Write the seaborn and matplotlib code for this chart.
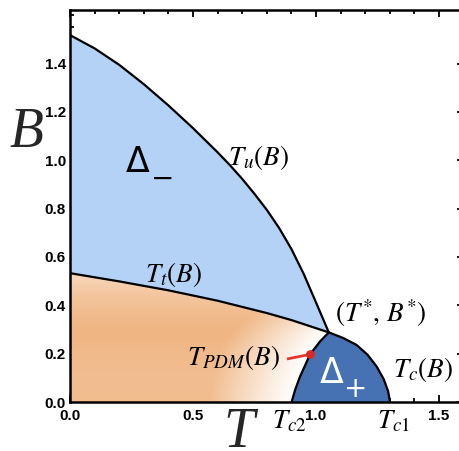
import numpy as np
import matplotlib
matplotlib.use("Agg")
import matplotlib.pyplot as plt
from matplotlib.patches import Polygon
from matplotlib.ticker import MultipleLocator, FormatStrFormatter
import seaborn as sns

# ---- data ----
# upper critical line T_u(B)
Tu_T = [0.0, 0.1, 0.2, 0.3, 0.4, 0.5, 0.6, 0.65, 0.7, 0.75, 0.8, 0.85, 0.9, 0.95, 1.0, 1.052]
Tu_B = [1.518, 1.463, 1.395, 1.315, 1.227, 1.133, 1.033, 0.98, 0.923, 0.861, 0.795, 0.72,
        0.633, 0.53, 0.412, 0.288]
# transition line T_t(B)
Tt_T = [0.0, 0.2, 0.4, 0.6, 0.8, 0.9, 1.052]
Tt_B = [0.533, 0.499, 0.462, 0.419, 0.368, 0.339, 0.288]
# T_PDM(B): left boundary of Delta_+ (from T_c2 up to T*)
Tp_T = [0.901, 0.915, 0.935, 0.955, 0.976, 1.016, 1.052]
Tp_B = [0.0, 0.05, 0.105, 0.15, 0.197, 0.25, 0.288]
# T_c(B): right boundary of Delta_+ (from T* down to T_c1)
Tc_T = [1.052, 1.11, 1.165, 1.21, 1.247, 1.275, 1.293, 1.301]
Tc_B = [0.288, 0.265, 0.236, 0.195, 0.146, 0.095, 0.045, 0.0]
# marked point on T_PDM(B) and label anchor of its arrow
pdm_point = (0.976, 0.197)
pdm_tail = (0.882, 0.178)

x_ticks = [0.0, 0.5, 1.0, 1.5]
y_ticks = [0.0, 0.2, 0.4, 0.6, 0.8, 1.0, 1.2, 1.4]

sns.set_style("ticks")
plt.rcParams["mathtext.fontset"] = "stix"
plt.rcParams["font.family"] = ["Liberation Sans", "DejaVu Sans"]

W, H = 459, 451
fig = plt.figure(figsize=(W / 100, H / 100), dpi=100)
x0, xr = 70, 246.0
y0, yr = 402, 241.7
xmax = 1.6
ymax = (y0 - 9.5) / yr
ax = fig.add_axes([x0 / W, (H - y0) / H, xmax * xr / W, ymax * yr / H])

light_blue = "#B4D2F5"
dark_blue = "#4672B3"

# Delta_- region
ax.fill(Tu_T + Tt_T[::-1], Tu_B + Tt_B[::-1], color=light_blue, lw=0, zorder=1)
# Delta_+ region
ax.fill(Tp_T + Tc_T, Tp_B + Tc_B, color=dark_blue, lw=0, zorder=1)

# orange shaded region (gradient)
Tg = np.linspace(0, 1.1, 440)
Bg = np.linspace(0, 0.56, 300)
TT, BB = np.meshgrid(Tg, Bg)
Tr = np.where(BB <= Tp_B[-1], np.interp(BB, Tp_B, Tp_T), Tp_T[-1] + (BB - Tp_B[-1]) * 2.0)
r = TT / Tr
f = np.clip((1.0 - r) / 0.38, 0, 1) ** 1.1
g = np.interp(BB, [0, 0.1, 0.2, 0.26, 0.29, 0.35, 0.45, 0.53],
              [0.72, 0.71, 0.74, 0.79, 0.80, 0.74, 0.60, 0.42])
I = f * g
base = np.array([236, 162, 98]) / 255
rgb = 1 - I[..., None] * (1 - base)
im = ax.imshow(rgb, extent=[0, 1.1, 0, 0.56], origin="lower", aspect="auto",
               interpolation="bilinear", zorder=1)
verts = [(0, 0), (0, Tt_B[0])] + list(zip(Tt_T, Tt_B)) + list(zip(Tp_T, Tp_B))[::-1]
poly = Polygon(verts, closed=True, transform=ax.transData, facecolor="none", edgecolor="none")
ax.add_patch(poly)
im.set_clip_path(poly)

# boundary lines
for xs, ys in [(Tu_T, Tu_B), (Tt_T, Tt_B), (Tp_T, Tp_B), (Tc_T, Tc_B)]:
    sns.lineplot(x=xs, y=ys, sort=False, estimator=None, color="black", lw=1.6, ax=ax, zorder=3)

# red marker and arrow
ax.plot([pdm_tail[0], pdm_point[0]], [pdm_tail[1], pdm_point[1]], color="#E03A2E", lw=2.0, zorder=4,
        solid_capstyle="butt")
ax.scatter([pdm_point[0]], [pdm_point[1]], s=40, color="#D82A22", zorder=5, linewidths=0)

ax.set_xlim(0, xmax)
ax.set_ylim(0, ymax)
ax.set_xticks(x_ticks)
ax.set_yticks(y_ticks)
ax.xaxis.set_minor_locator(MultipleLocator(0.1))
ax.yaxis.set_minor_locator(MultipleLocator(0.05))
ax.xaxis.set_major_formatter(FormatStrFormatter("%.1f"))
ax.yaxis.set_major_formatter(FormatStrFormatter("%.1f"))
ax.tick_params(which="both", direction="in", top=True, right=True, width=1.3, colors="black")
ax.tick_params(which="major", length=5)
ax.tick_params(which="minor", length=3)
ax.tick_params(axis="x", which="major", pad=5, labelsize=11)
ax.tick_params(axis="y", which="major", pad=3, labelsize=11)
for lbl in ax.get_xticklabels() + ax.get_yticklabels():
    lbl.set_fontweight("bold")
for s in ax.spines.values():
    s.set_linewidth(1.8)
    s.set_color("black")
    s.set_zorder(6)

# region labels
dl = dict(family="DejaVu Sans", ha="center", va="center", zorder=7)
ax.text(0.274, 0.995, "Δ", fontsize=25, color="black", **dl)
ax.text(0.378, 0.925, "−", fontsize=20, color="black", **dl)
ax.text(1.063, 0.122, "Δ", fontsize=25, color="white", **dl)
ax.text(1.16, 0.052, "+", fontsize=20, color="white", **dl)

lab = dict(fontsize=19.5, ha="left", va="baseline", color="black", zorder=7)
ax.text(0.642, 0.981, r"$T_u(B)$", **lab)
ax.text(0.305, 0.4965, r"$T_t(B)$", **lab)
ax.text(0.475, 0.153, r"$T_{PDM}(B)$", **lab)
ax.text(1.077, 0.331, r"$(T^{*},\,B^{*})$", **lab)
ax.text(1.313, 0.103, r"$T_c(B)$", **lab)
ax.text(0.822, -0.108, r"$T_{c2}$", clip_on=False, **lab)
ax.text(1.248, -0.108, r"$T_{c1}$", clip_on=False, **lab)

# axis labels
ax.text(-0.244, 1.055, "B", fontsize=40, fontstyle="italic", family="Liberation Serif",
        ha="left", va="baseline", clip_on=False)
ax.text(0.622, -0.186, "T", fontsize=40, fontstyle="italic", family="Liberation Serif",
        ha="left", va="baseline", clip_on=False)

fig.savefig("out.png", dpi=100)
